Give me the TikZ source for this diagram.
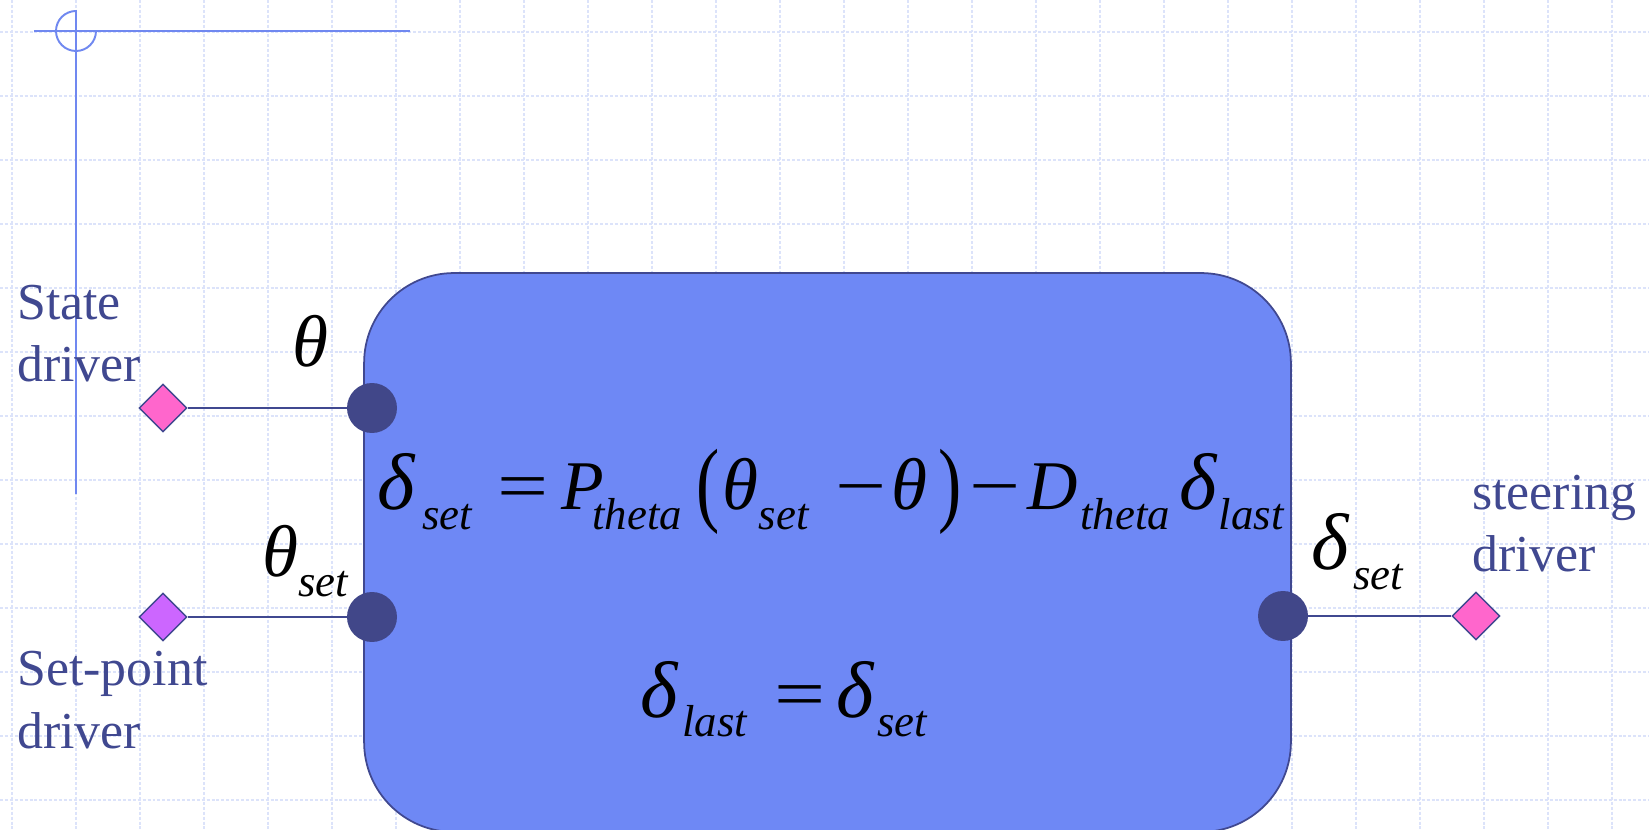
\documentclass[tikz,border=0pt]{standalone}
\usepackage{fontspec}
\setmainfont{Liberation Serif}
\usepackage{graphicx}
\usetikzlibrary{shapes.geometric}
\definecolor{gridblue}{HTML}{DCE3FA}
\definecolor{markblue}{HTML}{7088F0}
\definecolor{boxblue}{HTML}{6E88F5}
\definecolor{inkblue}{HTML}{404890}
\definecolor{portblue}{HTML}{414789}
\definecolor{pinkport}{HTML}{FF66CC}
\definecolor{violetport}{HTML}{CC66FF}
% fonts in pixel units of the reference (1px = 0.02cm)
\newlength{\pxu}
\setlength{\pxu}{0.5669pt}
\newcommand{\bigmath}{\fontsize{39.7pt}{44pt}\selectfont}
\newcommand{\submath}{\fontsize{25.5pt}{28pt}\selectfont}
\newcommand{\labfont}{\fontsize{29.5pt}{35.7pt}\selectfont}
\newcommand{\sub}[1]{\raisebox{-0.28em}{\submath\textit{#1}}}
\newcommand{\bdelta}{\scalebox{1.15}{\textit{δ}}}
\newcommand{\btheta}{\scalebox{1.05}{\textit{θ}}}
\newcommand{\tallpar}[1]{\raisebox{-0.06em}{\scalebox{1}[1.35]{#1}}}
\newcommand{\wideop}[1]{\scalebox{1.3}[1]{#1}}
\newcommand{\pc}[2]{\makebox[#1\pxu][l]{#2}}
\tikzset{
  gridline/.style={
    draw=gridblue,
    line width=0.8pt,
    dash pattern=on 1.7pt off 1.1pt
  },
  framemark/.style={
    draw=markblue,
    line width=1.1pt
  },
  ctrlbox/.style={
    draw=inkblue,
    fill=boxblue,
    line width=1pt,
    rounded corners=1.8cm,
    minimum width=18.54cm,
    minimum height=11.18cm,
    inner sep=0pt
  },
  portdot/.style={
    circle,
    fill=portblue,
    minimum size=1cm,
    inner sep=0pt
  },
  driverpin/.style={
    diamond,
    draw=inkblue,
    line width=0.8pt,
    minimum size=0.96cm,
    inner sep=0pt
  },
  wire/.style={
    draw=inkblue,
    line width=1pt
  },
  drvlabel/.style={
    text=inkblue,
    font=\labfont,
    align=left,
    inner sep=0pt
  },
  mathlabel/.style={
    text=black,
    font=\bigmath,
    inner sep=0pt
  }
}

\begin{document}
\begin{tikzpicture}[x=0.02cm, y=-0.02cm]
    \useasboundingbox (0,0) rectangle (1649,830);
    \fill[white] (0,0) rectangle (1649,830);

    % background grid
    \foreach \gx in {12,76,...,1650}
        \draw[gridline] (\gx,0) -- (\gx,830);
    \foreach \gy in {32,96,...,830}
        \draw[gridline] (0,\gy) -- (1649,\gy);

    % corner mark
    \draw[framemark] (34,31) -- (410,31);
    \draw[framemark] (76,10) -- (76,494);
    \draw[framemark] (76,11) arc[start angle=270, end angle=0, radius=20];

    % controller block
    \node[ctrlbox] (ctrl) at (827.5,552.5) {};

    % ports
    \node[portdot] (pth) at (372,408) {};
    \node[portdot] (pset) at (372,617) {};
    \node[portdot] (pout) at (1283,616) {};

    % drivers
    \node[driverpin, fill=pinkport] (sdrv) at (163,408) {};
    \node[driverpin, fill=violetport] (spdrv) at (163,617) {};
    \node[driverpin, fill=pinkport] (stdrv) at (1476,616) {};

    \draw[wire] (sdrv) -- (pth);
    \draw[wire] (spdrv) -- (pset);
    \draw[wire] (pout) -- (stdrv);

    % labels
    \node[drvlabel, anchor=base west] (sdrvlab) at (17,382) {State\\driver};
    \node[drvlabel, anchor=base west] (spdrvlab) at (17,748) {Set-point\\driver};
    \node[drvlabel, anchor=base west] (stdrvlab) at (1472,572) {steering\\driver};

    \node[mathlabel, anchor=base west] (thlab) at (292,367) {\btheta};
    \node[mathlabel, anchor=base west] (thsetlab) at (262,577) {\pc{36}{\btheta}\sub{set}};
    \node[mathlabel, anchor=base west] (dsetlab) at (1311,570) {\pc{42}{\bdelta}\sub{set}};

    % control law
    \node[mathlabel, anchor=base west] (law) at (377,510)
        {\pc{45}{\bdelta}\pc{76}{\sub{set}}\pc{64}{\wideop{=}}\pc{31}{\textit{P}}%
         \pc{104}{\sub{theta}}\pc{27}{\tallpar{(}}\pc{36}{\btheta}\pc{77}{\sub{set}}%
         \pc{56}{\wideop{−}}\pc{47}{\btheta}\pc{32}{\tallpar{)}}\pc{58}{\wideop{−}}%
         \pc{53}{\textit{D}}\pc{99}{\sub{theta}}\pc{40}{\bdelta}\sub{last}};
    \node[mathlabel, anchor=base west] (upd) at (640,717)
        {\pc{42}{\bdelta}\pc{93}{\sub{last}}\pc{62}{\wideop{=}}\pc{41}{\bdelta}\sub{set}};
\end{tikzpicture}
\end{document}
